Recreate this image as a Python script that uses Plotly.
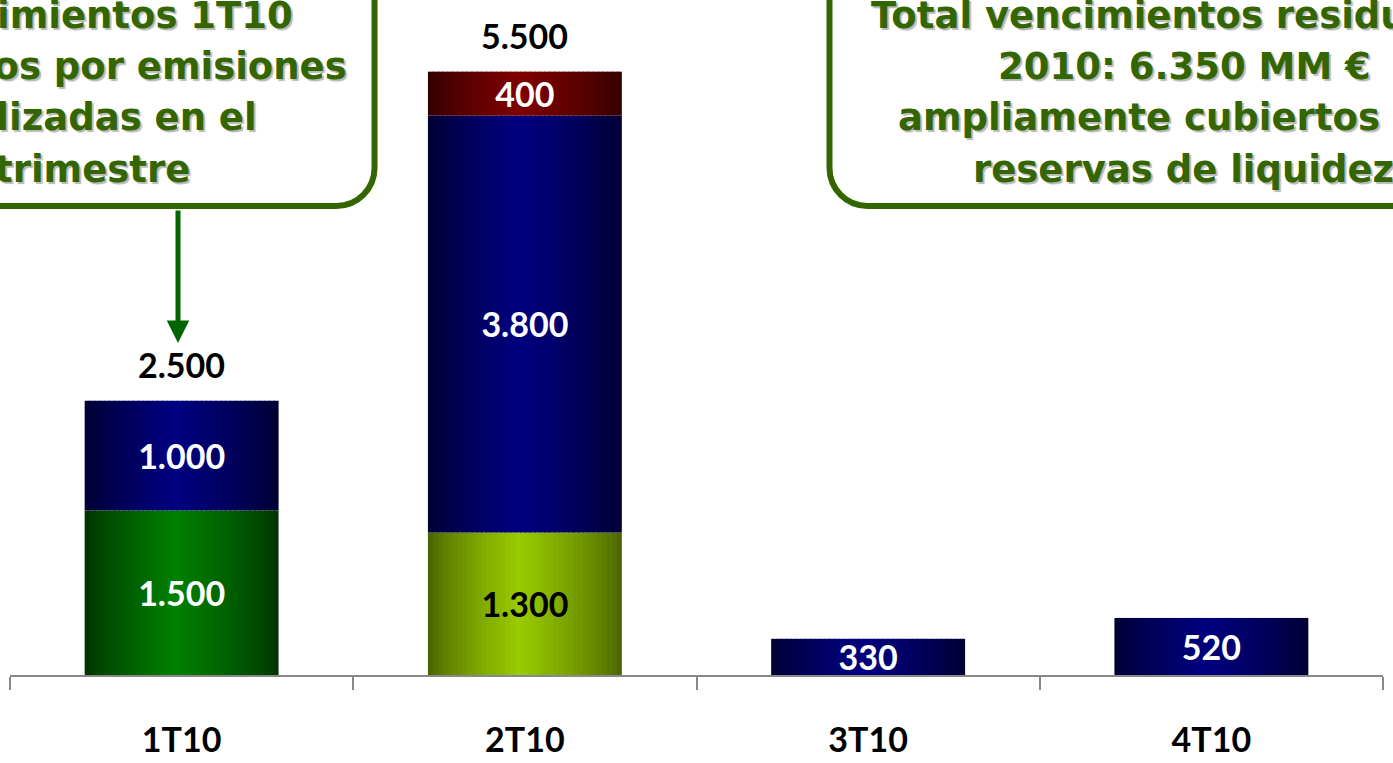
import plotly.graph_objects as go

# ---------------- data ----------------
categories = ["1T10", "2T10", "3T10", "4T10"]
# stacked segments, bottom to top (MM €)
seg_verde = [1500, 0, 0, 0]
seg_lima = [0, 1300, 0, 0]
seg_azul = [1000, 3800, 330, 520]
seg_rojo = [0, 400, 0, 0]

box_left_lines = ["Vencimientos 1T10", "cubiertos por emisiones", "realizadas en el", "trimestre"]
box_right_lines = ["Total vencimientos residuales", "2010: 6.350 MM €", "ampliamente cubiertos con", "reservas de liquidez"]

series = [
    dict(name="Verde", values=seg_verde, bright=(0, 128, 0), dark=(0, 48, 0), tcolor="white"),
    dict(name="Lima", values=seg_lima, bright=(153, 204, 0), dark=(72, 96, 0), tcolor="black"),
    dict(name="Azul", values=seg_azul, bright=(0, 0, 128), dark=(0, 0, 48), tcolor="white"),
    dict(name="Rojo", values=seg_rojo, bright=(128, 0, 0), dark=(48, 0, 0), tcolor="white"),
]

# ---------------- style ----------------
W, H = 1393, 763
ML, MR, MT, MB = 10, 10, 0, 88
YMAX = 6153
BAR_W = 0.565
N_STRIPS = 40
NUM_FONT = "Lato, Noto Sans, sans-serif"
NUM_SIZE = 34
BOX_FONT = "DejaVu Sans, Verdana, sans-serif"
GREEN_TXT = "#336600"


def fmt(v):
    return f"{v:,}".replace(",", ".")


def grad_color(bright, dark, t):
    peak = 0.47
    if t <= peak:
        s = 1 - (peak - t) / peak
    else:
        s = 1 - (t - peak) / (1 - peak)
    s = max(0.0, min(1.0, s)) ** 0.75
    c = [round(d + (b - d) * s) for b, d in zip(bright, dark)]
    return f"rgb({c[0]},{c[1]},{c[2]})"


fig = go.Figure()

base = [0] * len(categories)
for s in series:
    idx = [i for i, v in enumerate(s["values"]) if v > 0]
    xs = [categories[i] for i in idx]
    ys = [s["values"][i] for i in idx]
    bs = [base[i] for i in idx]
    ws = BAR_W / N_STRIPS
    for k in range(N_STRIPS):
        t = (k + 0.5) / N_STRIPS
        fig.add_trace(go.Bar(
            x=xs, y=ys, base=bs,
            width=ws * (1.2 if k < N_STRIPS - 1 else 1.0),
            offset=-BAR_W / 2 + k * ws,
            marker=dict(color=grad_color(s["bright"], s["dark"], t), line=dict(width=0)),
            hoverinfo="skip", showlegend=False,
        ))
    # text labels
    fig.add_trace(go.Bar(
        x=xs, y=ys, base=bs, width=BAR_W,
        marker=dict(color="rgba(0,0,0,0)", line=dict(width=0)),
        text=[fmt(v) for v in ys], textposition="inside", insidetextanchor="middle",
        textangle=0, constraintext="none",
        textfont=dict(family=NUM_FONT, size=NUM_SIZE, color=s["tcolor"], weight="bold"),
        name=s["name"], hoverinfo="x+y", showlegend=False,
    ))
    base = [b + v for b, v in zip(base, s["values"])]

# totals above multi-segment bars
annotations = []
for i, cat in enumerate(categories):
    nseg = sum(1 for s in series if s["values"][i] > 0)
    if nseg > 1:
        annotations.append(dict(
            x=cat, y=base[i], xref="x", yref="y", text=fmt(base[i]), showarrow=False,
            yanchor="middle", yshift=36,
            font=dict(family=NUM_FONT, size=NUM_SIZE, color="black", weight="bold"),
        ))


def px2paper(px, py):
    return (px - ML) / (W - ML - MR), (H - MB - py) / (H - MT - MB)


def rounded_path(x0, y0, x1, y1, r):
    k = 0.5523 * r
    pts = [
        ("M", [(x0 + r, y0)]),
        ("L", [(x1 - r, y0)]),
        ("C", [(x1 - r + k, y0), (x1, y0 + r - k), (x1, y0 + r)]),
        ("L", [(x1, y1 - r)]),
        ("C", [(x1, y1 - r + k), (x1 - r + k, y1), (x1 - r, y1)]),
        ("L", [(x0 + r, y1)]),
        ("C", [(x0 + r - k, y1), (x0, y1 - r + k), (x0, y1 - r)]),
        ("L", [(x0, y0 + r)]),
        ("C", [(x0, y0 + r - k), (x0 + r - k, y0), (x0 + r, y0)]),
    ]
    out = []
    for cmd, ps in pts:
        coords = " ".join(f"{px2paper(a, b)[0]:.5f},{px2paper(a, b)[1]:.5f}" for a, b in ps)
        out.append(f"{cmd}{coords}")
    return " ".join(out) + " Z"


shapes = [
    dict(type="path", xref="paper", yref="paper", path=rounded_path(-220, -40, 374.5, 206, 38),
         line=dict(color=GREEN_TXT, width=6), fillcolor="white", layer="above"),
    dict(type="path", xref="paper", yref="paper", path=rounded_path(829.5, -40, 1620, 206, 38),
         line=dict(color=GREEN_TXT, width=6), fillcolor="white", layer="above"),
]

box_font = dict(family=BOX_FONT, size=37, color=GREEN_TXT, weight="bold", shadow="2px 2px 1px #b8b8b8")
line_centers = [15.5, 66.5, 117.5, 169.5]
left_right_edges = [295, 349, 259, 192]
for txt, xr, yc in zip(box_left_lines, left_right_edges, line_centers):
    px, py = px2paper(xr, yc)
    annotations.append(dict(x=px, y=py, xref="paper", yref="paper", text=txt, showarrow=False,
                            xanchor="right", yanchor="middle", font=box_font))
right_pos = [("left", 869), ("center", 1184.5), ("left", 896), ("left", 971)]
for txt, (anc, xv), yc in zip(box_right_lines, right_pos, line_centers):
    px, py = px2paper(xv, yc)
    annotations.append(dict(x=px, y=py, xref="paper", yref="paper", text=txt, showarrow=False,
                            xanchor=anc, yanchor="middle", font=box_font))

# arrow from left box to 1T10 bar
ax_, ay_ = px2paper(178, 343)
annotations.append(dict(x=ax_, y=ay_, xref="paper", yref="paper", text="", showarrow=True,
                        ax=0, ay=-134, arrowcolor="#006600", arrowwidth=5, arrowhead=2,
                        arrowsize=0.9, standoff=0, startstandoff=0))

fig.update_layout(
    width=W, height=H,
    margin=dict(l=ML, r=MR, t=MT, b=MB, pad=0),
    paper_bgcolor="white", plot_bgcolor="white",
    barmode="overlay", showlegend=False,
    xaxis=dict(type="category", categoryorder="array", categoryarray=categories,
               range=[-0.5, len(categories) - 0.5],
               showline=True, linecolor="#888888", linewidth=2,
               ticks="outside", tickson="boundaries", ticklen=13, tickwidth=2, tickcolor="#888888",
               ticklabelstandoff=34,
               tickfont=dict(family=NUM_FONT, size=NUM_SIZE, color="black", weight="bold"),
               showgrid=False, zeroline=False, fixedrange=True),
    yaxis=dict(range=[0, YMAX], visible=False, showgrid=False, zeroline=False, fixedrange=True),
    shapes=shapes, annotations=annotations,
)

fig.write_html("out.html", config={"displayModeBar": False},
               post_script="document.body.style.margin='0px';document.body.style.overflow='hidden';")
